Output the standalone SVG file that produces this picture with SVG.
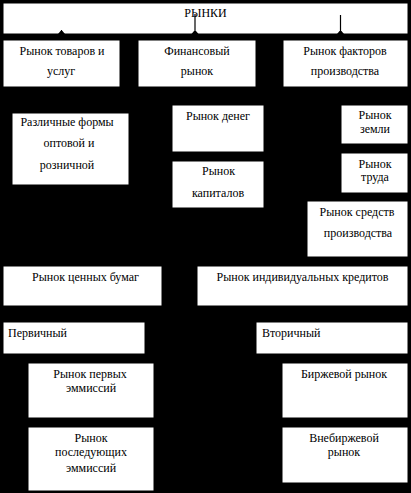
<svg xmlns="http://www.w3.org/2000/svg" width="411" height="493" viewBox="0 0 411 493">
<style>
.box{fill:#fff;stroke:#000;stroke-width:1}
.t text{font-size:12px;fill:#000;font-family:"Times New Roman","Liberation Serif",Tinos,serif}
.c{text-anchor:middle}
.conn{stroke:#000;stroke-width:1.2;fill:none}
</style>
<rect x="0" y="0" width="411" height="493" fill="#000"/>
<g class="t">
<g id="rynki"><rect class="box" x="3" y="3" width="405" height="31"/><text class="c" x="205.5" y="17">РЫНКИ</text></g>
<g id="connectors">
<line class="conn" x1="61.5" y1="30" x2="61.5" y2="34"/>
<path d="M58,34 L60.5,31 L62.5,31 L65,34 Z" fill="#000"/>
<line class="conn" x1="195" y1="14" x2="195" y2="34"/>
<path d="M191.5,34 L194,31 L196,31 L198.5,34 Z" fill="#000"/>
<line class="conn" x1="340.5" y1="15" x2="340.5" y2="34"/>
<path d="M337,34 L339.5,31 L341.5,31 L344,34 Z" fill="#000"/>
</g>
<g id="tovary"><rect class="box" x="3" y="40" width="117" height="47"/><text class="c" x="62" y="55">Рынок товаров и</text><text class="c" x="61" y="75">услуг</text></g>
<g id="finansovy"><rect class="box" x="138" y="40" width="118" height="47"/><text class="c" x="197" y="55">Финансовый</text><text class="c" x="197" y="75">рынок</text></g>
<g id="faktory"><rect class="box" x="283" y="40" width="125" height="47"/><text class="c" x="345" y="55">Рынок факторов</text><text class="c" x="345" y="75">производства</text></g>
<g id="formy"><rect class="box" x="12" y="113" width="117" height="72"/><text class="c" x="67" y="126">Различные формы</text><text class="c" x="69" y="147">оптовой и</text><text class="c" x="67" y="169">розничной</text></g>
<g id="dengi"><rect class="box" x="172" y="105" width="92" height="47"/><text class="c" x="218" y="120">Рынок денег</text></g>
<g id="kapital"><rect class="box" x="172" y="161" width="92" height="47"/><text class="c" x="218.5" y="175">Рынок</text><text class="c" x="218" y="197">капиталов</text></g>
<g id="zemlya"><rect class="box" x="341" y="105" width="67" height="39"/><text class="c" x="375" y="119">Рынок</text><text class="c" x="375" y="133">земли</text></g>
<g id="trud"><rect class="box" x="341" y="153" width="67" height="40"/><text class="c" x="375" y="168">Рынок</text><text class="c" x="375" y="181">труда</text></g>
<g id="sredstva"><rect class="box" x="307" y="201" width="101" height="56"/><text class="c" x="357" y="216">Рынок средств</text><text class="c" x="358" y="237">производства</text></g>
<g id="cennye"><rect class="box" x="3" y="266" width="159" height="40"/><text class="c" x="85.5" y="281">Рынок ценных бумаг</text></g>
<g id="kredity"><rect class="box" x="197" y="266" width="211" height="40"/><text class="c" x="302.5" y="281">Рынок индивидуальных кредитов</text></g>
<g id="pervichny"><rect class="box" x="3" y="322" width="142" height="32"/><text x="8" y="337">Первичный</text></g>
<g id="vtorichny"><rect class="box" x="256" y="322" width="152" height="32"/><text x="262" y="337">Вторичный</text></g>
<g id="pervye"><rect class="box" x="28" y="363" width="126" height="55"/><text class="c" x="90" y="378">Рынок первых</text><text class="c" x="91" y="392">эммиссий</text></g>
<g id="posleduyushchie"><rect class="box" x="28" y="427" width="126" height="64"/><text class="c" x="91" y="442">Рынок</text><text class="c" x="91" y="456">последующих</text><text class="c" x="91" y="472">эммиссий</text></g>
<g id="birzhevoy"><rect class="box" x="282" y="363" width="126" height="55"/><text class="c" x="344" y="378">Биржевой рынок</text></g>
<g id="vnebirzhevoy"><rect class="box" x="282" y="427" width="126" height="56"/><text class="c" x="344" y="442">Внебиржевой</text><text class="c" x="344" y="456">рынок</text></g>
</g>
</svg>
